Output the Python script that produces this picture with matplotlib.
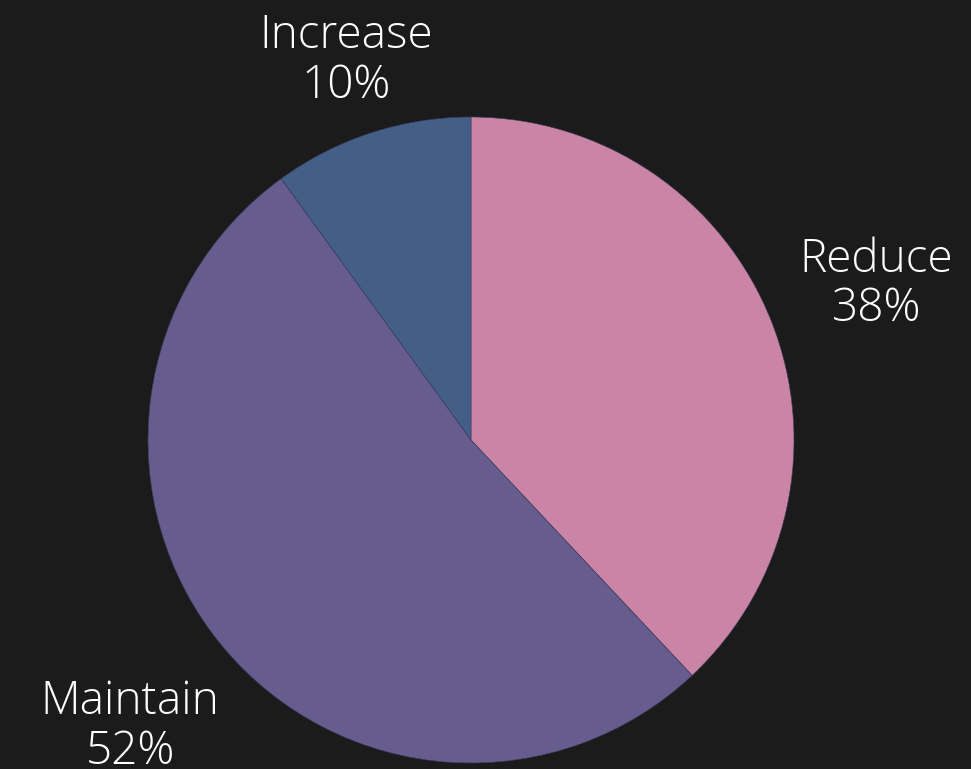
import numpy as np
import matplotlib.pyplot as plt

# 数据
labels = ["Reduce", "Maintain", "Increase"]
shares = [38, 52, 10]
colors = ["#C984A6", "#675C8E", "#445F87"]
label_dist = [1.35, 1.37, 1.25]  # 标签到圆心的距离（半径倍数）

bg = "#1B1B1B"
fig = plt.figure(figsize=(9.71, 7.69), dpi=100, facecolor=bg)

# 饼图区域: 圆心 (471, 440) px, 半径 323 px
W, H = 971, 769
cx, cy, r = 471, 440, 323
ax = fig.add_axes([(cx - r) / W, (H - cy - r) / H, 2 * r / W, 2 * r / H])
ax.set_facecolor(bg)

wedges, _ = ax.pie(shares, colors=colors, startangle=90, counterclock=False,
                   wedgeprops=dict(edgecolor="#3a3a5a", linewidth=0.4))
ax.set_xlim(-1, 1)
ax.set_ylim(-1, 1)
ax.set_aspect("equal")
ax.axis("off")

# 外部标签（整体下移几个像素）
dy = -5 / r
for w, lab, val, d in zip(wedges, labels, shares, label_dist):
    ang = np.deg2rad((w.theta1 + w.theta2) / 2)
    ax.text(d * np.cos(ang), d * np.sin(ang) + dy, f"{lab}\n{val}%",
            ha="center", va="center", color="white", fontsize=33,
            family=["Open Sans", "DejaVu Sans"], fontweight="light",
            linespacing=1.1, clip_on=False)

fig.savefig("out.png", dpi=100, facecolor=bg)
